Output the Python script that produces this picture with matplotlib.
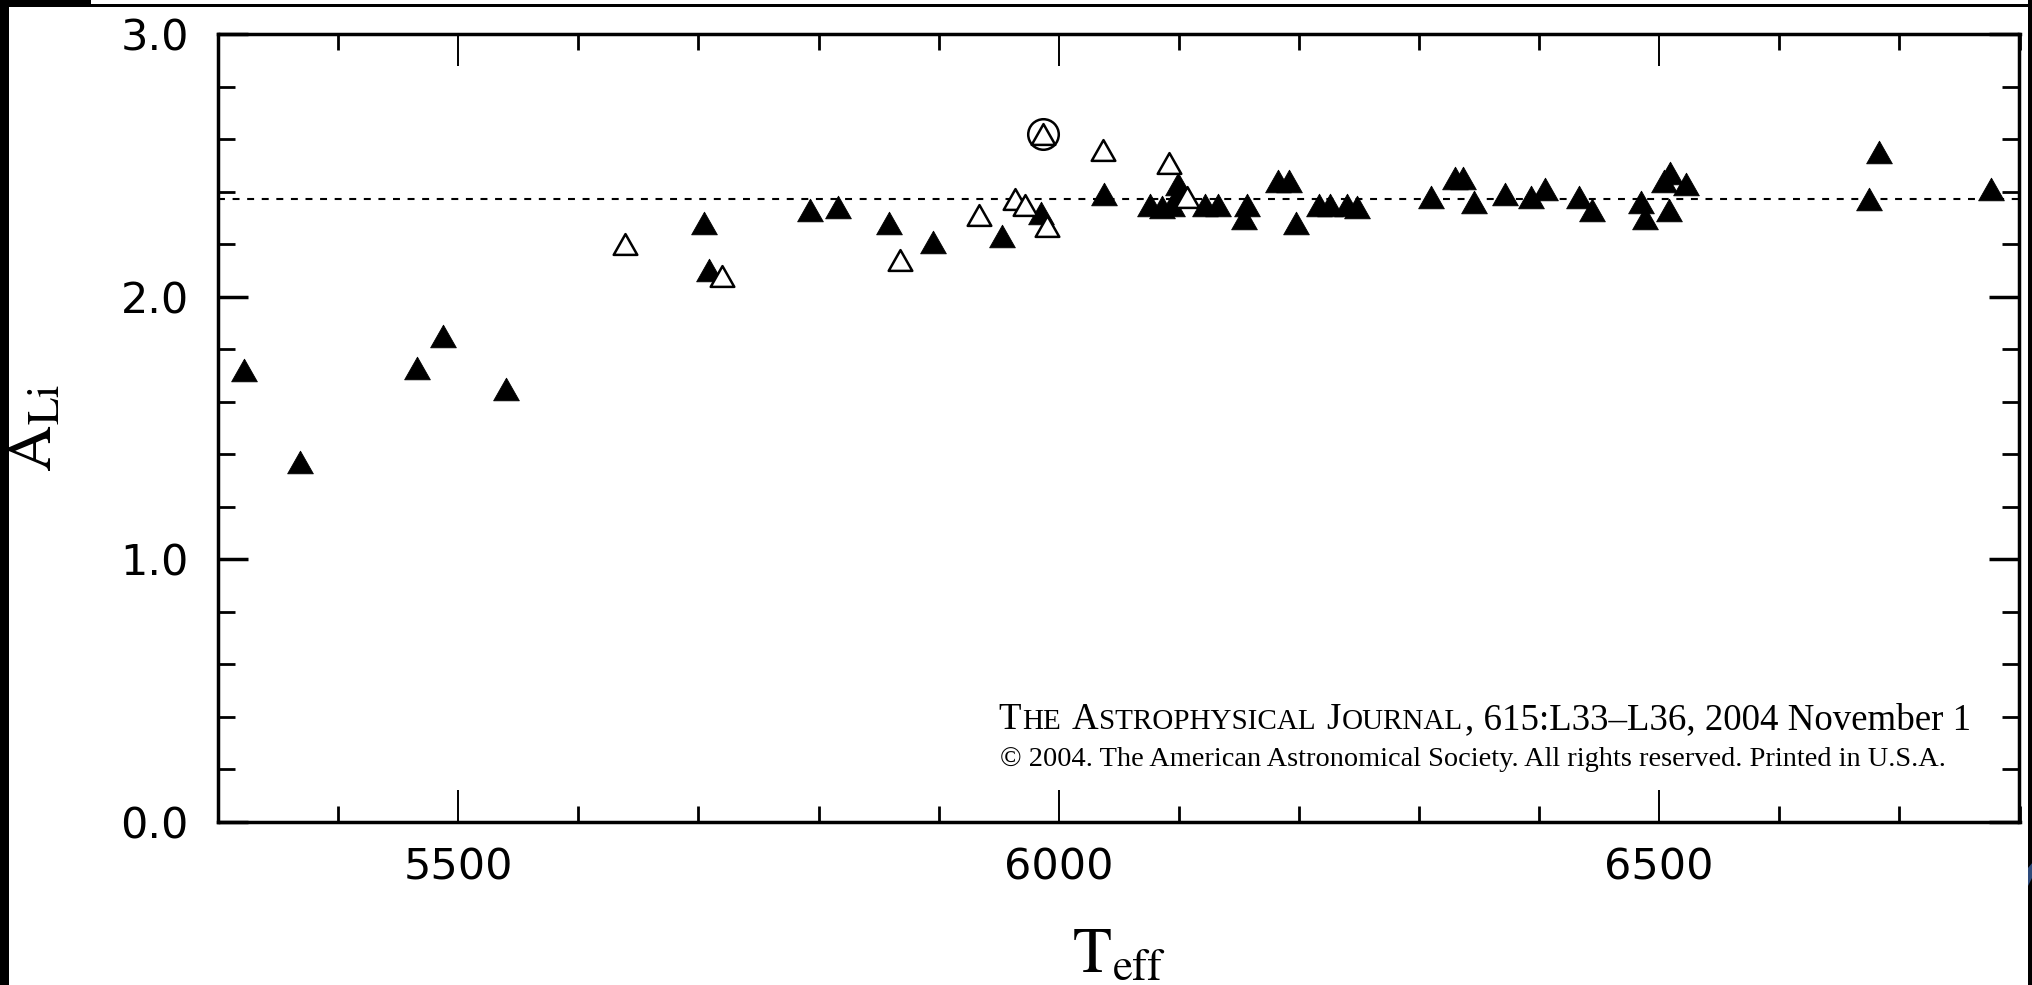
import matplotlib
matplotlib.use("Agg")
from matplotlib import pyplot as plt
from matplotlib.path import Path
from matplotlib.markers import MarkerStyle
from matplotlib.patches import Rectangle, Polygon
from matplotlib.ticker import MultipleLocator, FormatStrFormatter

# Li abundances vs effective temperature
teff_det = [5322, 5368, 5466, 5487, 5540, 5705, 5709, 5793, 5816, 5859,
            5895, 5953, 5985, 6038, 6076, 6086, 6094, 6099, 6101, 6122,
            6133, 6154, 6157, 6183, 6192, 6198, 6217, 6226, 6240, 6248,
            6310, 6330, 6337, 6346, 6372, 6393, 6405, 6433, 6444, 6485,
            6488, 6504, 6509, 6508, 6522, 6675, 6683, 6776]
ali_det = [1.72, 1.37, 1.73, 1.85, 1.65, 2.28, 2.10, 2.33, 2.34, 2.28,
           2.21, 2.23, 2.32, 2.39, 2.35, 2.34, 2.35, 2.43, 2.39, 2.35,
           2.35, 2.30, 2.35, 2.44, 2.44, 2.28, 2.35, 2.35, 2.35, 2.34,
           2.38, 2.45, 2.45, 2.36, 2.39, 2.38, 2.41, 2.38, 2.33, 2.36,
           2.30, 2.44, 2.47, 2.33, 2.43, 2.37, 2.55, 2.41]

teff_open = [5639, 5720, 5868, 5934, 5964, 5972, 5990, 5987, 6037, 6092, 6107]
ali_open = [2.20, 2.08, 2.14, 2.31, 2.37, 2.35, 2.27, 2.62, 2.56, 2.51, 2.38]

teff_circ = [5987]
ali_circ = [2.62]

plateau = 2.37

W, H = 2033, 985
plt.rcParams['mathtext.fontset'] = 'stix'
plt.rcParams['lines.scale_dashes'] = False

fig = plt.figure(figsize=(W / 100, H / 100), dpi=100)
fig.patch.set_facecolor('white')
ax = fig.add_axes([218 / W, 1 - 822 / H, 1801.5 / W, 788 / H])

tri_path = Path([(0, 0.88), (-1, -0.88), (1, -0.88), (0, 0.88)],
                [Path.MOVETO, Path.LINETO, Path.LINETO, Path.CLOSEPOLY])
tri = MarkerStyle(tri_path, joinstyle='miter')

ax.axhline(plateau, color='black', lw=1.5, linestyle=(0, (5, 5.5)), zorder=2)
ax.plot(teff_det, ali_det, ls='none', marker=tri, ms=18.5, mfc='black',
        mec='black', mew=0.6, zorder=3)
ax.plot(teff_open, ali_open, ls='none', marker=tri, ms=17, mfc='white',
        mec='black', mew=1.8, zorder=4)
ax.plot(teff_circ, ali_circ, ls='none', marker='o', ms=22, mfc='none',
        mec='black', mew=1.8, zorder=5)

ax.set_xlim(5300, 6800)
ax.set_ylim(0, 3)
ax.xaxis.set_major_locator(MultipleLocator(500))
ax.xaxis.set_minor_locator(MultipleLocator(100))
ax.yaxis.set_major_locator(MultipleLocator(1))
ax.yaxis.set_minor_locator(MultipleLocator(0.2))
ax.xaxis.set_major_formatter(FormatStrFormatter('%d'))
ax.yaxis.set_major_formatter(FormatStrFormatter('%.1f'))

for sp in ax.spines.values():
    sp.set_linewidth(2.5)
ax.tick_params(which='both', direction='in', top=True, right=True, color='black')
ax.tick_params(axis='x', which='major', length=23, width=1.4, pad=18, labelsize=31)
ax.tick_params(axis='x', which='minor', length=11.5, width=2)
ax.tick_params(axis='y', which='major', length=21.5, width=2.5, pad=21, labelsize=31)
ax.tick_params(axis='y', which='minor', length=12, width=2)
for lab in ax.get_xticklabels() + ax.get_yticklabels():
    lab.set_family('DejaVu Sans')

ax.set_xlabel(r'$\mathrm{T}_{\mathrm{eff}}$', fontsize=46)
ax.set_ylabel(r'$\mathrm{A}_{\mathrm{Li}}$', fontsize=46)
ax.xaxis.set_label_coords(0.5, -0.128)
ax.yaxis.set_label_coords(-0.085, 0.5)

# journal banner with small caps, placed piece by piece
renderer = fig.canvas.get_renderer()
big, small = 26.6, 21
pieces = [("T", big), ("HE", small), None, ("A", big), ("STROPHYSICAL", small), None,
          ("J", big), ("OURNAL", small), (", 615:L33\u2013L36, 2004 November 1", big)]
cur = 998
for p in pieces:
    if p is None:
        cur += 9
        continue
    t = fig.text(cur / W, 1 - 729 / H, p[0], fontsize=p[1], family='Liberation Serif',
                 ha='left', va='baseline')
    cur = t.get_window_extent(renderer).x1 + 1.5

fig.text(1000 / W, 1 - 766 / H,
         "\u00a9 2004. The American Astronomical Society. All rights reserved. Printed in U.S.A.",
         fontsize=20.4, family='Liberation Serif', ha='left', va='baseline')

# black screenshot borders
def px_rect(x0, y0, x1, y1, color='black'):
    fig.add_artist(Rectangle((x0 / W, 1 - y1 / H), (x1 - x0) / W, (y1 - y0) / H,
                             transform=fig.transFigure, color=color, lw=0, zorder=10))

px_rect(0, 0, 9, H)
px_rect(0, 0, 91, 7)
px_rect(0, 4, W, 7)
px_rect(2028, 0, W, H)
fig.add_artist(Polygon([(2028 / W, 1 - 868 / H), (W / W, 1 - 862 / H), (W / W, 1 - 876 / H),
                        (2028 / W, 1 - 886 / H)], closed=True, transform=fig.transFigure,
                       color='#2d4a7a', lw=0, zorder=11))

fig.savefig('out.png', dpi=100)
